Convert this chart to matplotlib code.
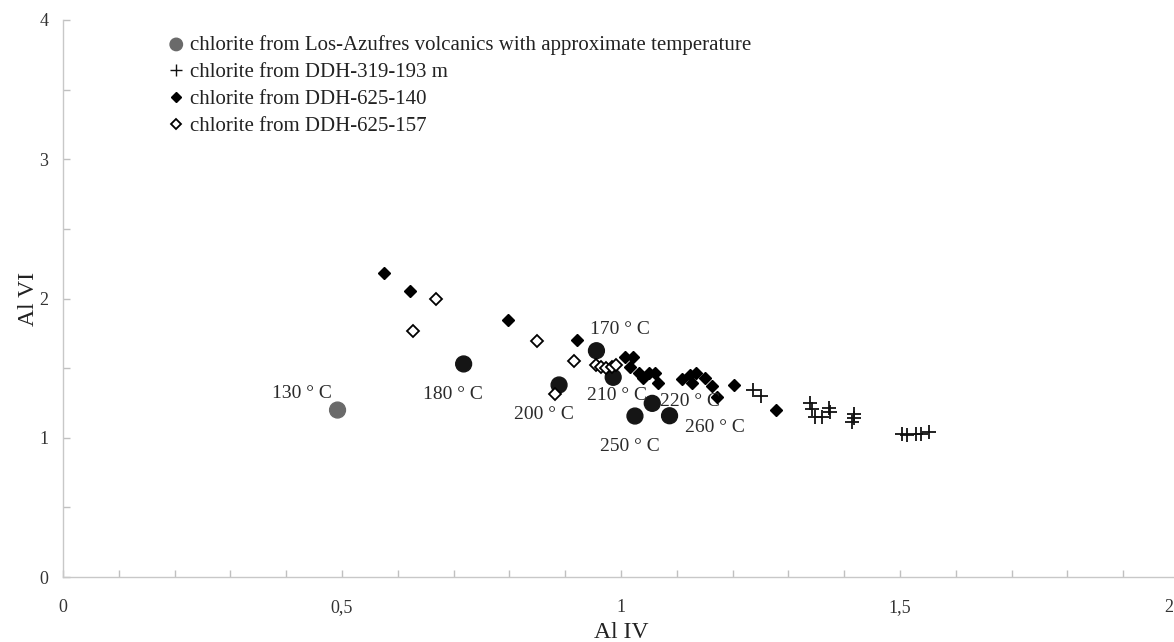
import matplotlib
matplotlib.use("Agg")
import matplotlib.pyplot as plt
from matplotlib.ticker import MultipleLocator
from matplotlib.collections import PathCollection

# ---- data ----
azufres_x = [0.492, 0.718, 0.889, 0.956, 0.986, 1.025, 1.056, 1.087]
azufres_y = [1.199, 1.530, 1.379, 1.625, 1.434, 1.156, 1.247, 1.158]
azufres_temp = ["130 ° C", "180 ° C", "200 ° C", "170 ° C", "210 ° C", "250 ° C", "220 ° C", "260 ° C"]
temp_label_x = [0.428, 0.698, 0.861, 0.998, 0.993, 1.016, 1.124, 1.169]
temp_label_y = [1.315, 1.312, 1.168, 1.780, 1.300, 0.938, 1.262, 1.075]

ddh319_x = [1.236, 1.251, 1.339, 1.342, 1.348, 1.360, 1.372, 1.374, 1.417, 1.418, 1.414,
            1.504, 1.513, 1.528, 1.537, 1.552]
ddh319_y = [1.343, 1.303, 1.247, 1.206, 1.151, 1.151, 1.216, 1.187, 1.168, 1.140, 1.115,
            1.025, 1.020, 1.025, 1.025, 1.039]

ddh140_x = [0.575, 0.621, 0.797, 0.921, 1.007, 1.022, 1.016, 1.033, 1.039, 1.051, 1.061,
            1.066, 1.109, 1.123, 1.135, 1.127, 1.151, 1.163, 1.172, 1.203, 1.278]
ddh140_y = [2.183, 2.054, 1.846, 1.702, 1.578, 1.582, 1.510, 1.463, 1.427, 1.463, 1.467,
            1.395, 1.420, 1.451, 1.463, 1.391, 1.427, 1.372, 1.293, 1.382, 1.199]

ddh157_x = [0.628, 0.668, 0.850, 0.916, 0.956, 0.965, 0.974, 0.983, 0.991, 0.881]
ddh157_y = [1.767, 1.996, 1.697, 1.553, 1.526, 1.506, 1.499, 1.506, 1.519, 1.311]

x_ticks = [0, 0.5, 1, 1.5, 2]
x_tick_labels = ["0", "0,5", "1", "1,5", "2"]
y_ticks = [0, 1, 2, 3, 4]

# ---- figure ----
plt.rcParams['font.family'] = ['Liberation Serif', 'DejaVu Serif']
W, H = 1174, 642
fig = plt.figure(figsize=(W / 100, H / 100), dpi=100)
ax = fig.add_axes([63 / W, 65 / H, 1116 / W, 557 / H])

azufres_colors = ['#6a6a6a'] + ['#151515'] * (len(azufres_x) - 1)
ax.scatter(azufres_x, azufres_y, s=130, c=azufres_colors, marker='o', zorder=3,
           label='chlorite from Los-Azufres volcanics with approximate temperature')
ax.plot(ddh319_x, ddh319_y, linestyle='none', marker='+', markersize=10, mew=1.3,
        color='#111111', zorder=3, label='chlorite from DDH-319-193 m')
ax.plot(ddh140_x, ddh140_y, linestyle='none', marker='D', markersize=6.5,
        color='#000000', zorder=4, label='chlorite from DDH-625-140')
ax.plot(ddh157_x, ddh157_y, linestyle='none', marker='D', markersize=6.5, mew=1.3,
        markerfacecolor='white', markeredgecolor='#000000', zorder=4,
        label='chlorite from DDH-625-157')

for t, tx, ty in zip(azufres_temp, temp_label_x, temp_label_y):
    ax.text(tx, ty, t, ha='center', va='center', fontsize=14, color='#2a2a2a', zorder=5)

ax.set_xlim(0, 2)
ax.set_ylim(0, 4)
ax.set_xticks(x_ticks)
# the last label ("2") sits at the figure's right edge; drawn separately below
ax.set_xticklabels(x_tick_labels[:-1] + [""])
ax.annotate(x_tick_labels[-1], xy=(x_ticks[-1], 0), xycoords=('data', 'axes fraction'),
            xytext=(-4, -16), textcoords='offset points', ha='right', va='top',
            fontsize=13, color='#333333', annotation_clip=False)
ax.xaxis.set_minor_locator(MultipleLocator(0.1))
ax.set_yticks(y_ticks)
ax.yaxis.set_minor_locator(MultipleLocator(0.5))

for s in ['top', 'right']:
    ax.spines[s].set_visible(False)
for s in ['left', 'bottom']:
    ax.spines[s].set_color('#c8c8c8')
    ax.spines[s].set_linewidth(1.0)

ax.tick_params(axis='both', which='both', direction='in', color='#c0c0c0', length=5,
               width=1.0, labelsize=13, labelcolor='#333333')
ax.tick_params(axis='x', which='major', pad=16)
ax.tick_params(axis='y', which='major', pad=10.5)

ax.set_xlabel('Al IV', fontsize=17, color='#222222', labelpad=4)
ax.set_ylabel('Al VI', fontsize=17, color='#222222', labelpad=0)

# legend
handles, labels = ax.get_legend_handles_labels()
leg = ax.legend(handles, labels, loc='upper left',
                bbox_to_anchor=(170 / W, 1 - 35 / H), bbox_transform=fig.transFigure,
                frameon=False, fontsize=15, handlelength=0.6, handletextpad=0.35,
                labelspacing=0.36, borderpad=0, borderaxespad=0, markerscale=1.0)
for txt in leg.get_texts():
    txt.set_color('#222222')
for h in leg.legend_handles:
    if isinstance(h, PathCollection):
        h.set_sizes([80])
    else:
        if h.get_marker() == '+':
            h.set_markersize(8)
            h.set_markeredgewidth(1.0)
        else:
            h.set_markersize(5.5)

fig.savefig('out.png', dpi=100, facecolor='white')
